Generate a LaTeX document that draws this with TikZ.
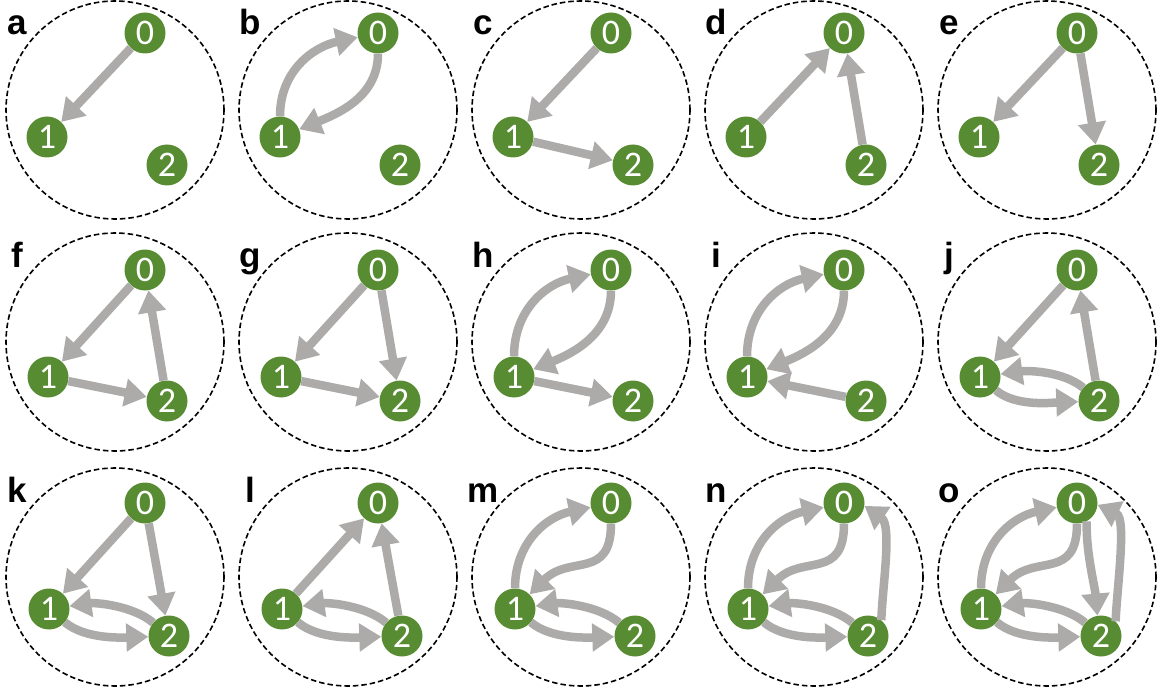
\documentclass[tikz,border=0pt]{standalone}
\usepackage{fontspec}
\setmainfont{Carlito}
\newfontfamily\labfont{Liberation Sans}
\usetikzlibrary{arrows.meta}
\definecolor{vgreen}{RGB}{88,140,50}
\definecolor{agray}{RGB}{173,170,170}
\tikzset{
  vtx/.style={circle, fill=vgreen, minimum size=41pt, inner sep=0pt, text=white, font=\fontsize{36}{36}\selectfont},
  ring/.style={draw=black, line width=1.6pt, dash pattern=on 5.5pt off 3pt},
  lab/.style={anchor=base, font=\labfont\bfseries\fontsize{35}{35}\selectfont},
  arr/.style={draw=agray, line width=8.5pt, -{Triangle[length=22pt,width=27pt]}},
}
\newcommand\panel[9]{%
  \begin{scope}[shift={(#2,#3)}]
    \draw[ring] (0,0) circle[radius=109];
    \node[lab] (lab#1) at (-98,75) {#1};
    \node[vtx] (#10) at (#4,#5) {0};
    \node[vtx] (#11) at (#6,#7) {1};
    \node[vtx] (#12) at (#8,#9) {2};
  \end{scope}}
\newcommand\rowone[2]{\panel{#1}{#2}{-110}{30}{77}{-68}{-27}{52}{-55}}
\newcommand\rowtwo[2]{\panel{#1}{#2}{-342}{30}{72}{-67}{-35}{52}{-59}}
\newcommand\rowthree[2]{\panel{#1}{#2}{-577}{30}{74}{-66}{-32}{54}{-59}}
\begin{document}
\begin{tikzpicture}[x=1pt,y=1pt]
\useasboundingbox (0,0) rectangle (1167,-695);
\rowone{a}{115}\rowone{b}{348}\rowone{c}{581}\rowone{d}{814}\rowone{e}{1047}
\rowtwo{f}{115}\rowtwo{g}{348}\rowtwo{h}{581}\rowtwo{i}{814}\rowtwo{j}{1047}
\rowthree{k}{115}\rowthree{l}{348}\rowthree{m}{581}\rowthree{n}{814}\rowthree{o}{1047}
\tikzset{
  up/.style={out=90,in=192,looseness=1.05},
  down/.style={out=-90,in=22},
  scurve/.style={out=-90,in=45,looseness=1.35},
  topback/.style={out=140,in=8,looseness=0.8},
  botfwd/.style={out=-40,in=182,looseness=0.8},
}
% a
\draw[arr] (a0) -- (a1);
% b
\draw[arr] (b1) to[up] (b0);
\draw[arr] (b0) to[down] (b1);
% c
\draw[arr] (c0) -- (c1);
\draw[arr] (c1) -- (c2);
% d
\draw[arr] (d1) -- (d0);
\draw[arr] (d2) -- (d0);
% e
\draw[arr] (e0) -- (e1);
\draw[arr] (e0) -- (e2);
% f
\draw[arr] (f0) -- (f1);
\draw[arr] (f1) -- (f2);
\draw[arr] (f2) -- (f0);
% g
\draw[arr] (g0) -- (g1);
\draw[arr] (g1) -- (g2);
\draw[arr] (g0) -- (g2);
% h
\draw[arr] (h1) to[up] (h0);
\draw[arr] (h0) to[down] (h1);
\draw[arr] (h1) -- (h2);
% i
\draw[arr] (i1) to[up] (i0);
\draw[arr] (i0) to[down] (i1);
\draw[arr] (i2) -- (i1);
% j
\draw[arr] (j0) -- (j1);
\draw[arr] (j2) -- (j0);
\draw[arr] (j2) to[topback] (j1);
\draw[arr] (j1) to[botfwd] (j2);
% k
\draw[arr] (k0) -- (k1);
\draw[arr] (k0) -- (k2);
\draw[arr] (k2) to[topback] (k1);
\draw[arr] (k1) to[botfwd] (k2);
% l
\draw[arr] (l1) -- (l0);
\draw[arr] (l2) -- (l0);
\draw[arr] (l2) to[topback] (l1);
\draw[arr] (l1) to[botfwd] (l2);
% m
\draw[arr] (m1) to[up] (m0);
\draw[arr] (m0) to[scurve] (m1);
\draw[arr] (m2) to[topback] (m1);
\draw[arr] (m1) to[botfwd] (m2);
% n
\draw[arr] (n1) to[up] (n0);
\draw[arr] (n0) to[scurve] (n1);
\draw[arr] (n2) to[topback] (n1);
\draw[arr] (n1) to[botfwd] (n2);
\draw[arr] (n2.50) to[out=88,in=-35,looseness=0.75] (n0.-8);
% o
\draw[arr] (o1) to[up] (o0);
\draw[arr] (o0) to[scurve] (o1);
\draw[arr] (o2) to[topback] (o1);
\draw[arr] (o1) to[botfwd] (o2);
\draw[arr] (o2.45) to[out=88,in=-25,looseness=0.7] (o0.-5);
\draw[arr] (o0.-62) to[out=-92,in=95,looseness=0.8] (o2.100);
\end{tikzpicture}
\end{document}
